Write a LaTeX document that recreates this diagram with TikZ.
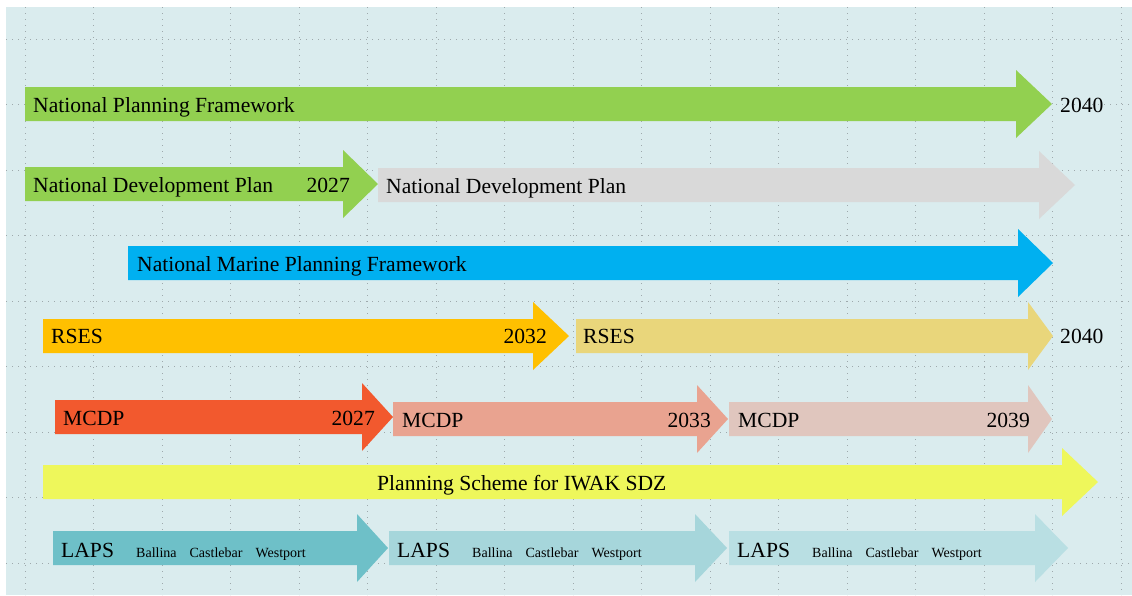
\documentclass[tikz,border=0pt]{standalone}
\usepackage{fontspec}
\setmainfont{Liberation Serif}

\definecolor{bgblue}{HTML}{DAECEE}
\definecolor{gridgray}{HTML}{9EA9AC}
\definecolor{npfgreen}{HTML}{92D050}
\definecolor{ndpgray}{HTML}{D9D9D9}
\definecolor{marineblue}{HTML}{00B0F0}
\definecolor{rsesorange}{HTML}{FFC000}
\definecolor{rseslight}{HTML}{E9D67B}
\definecolor{mcdpred}{HTML}{F2592E}
\definecolor{mcdpsalmon}{HTML}{E9A390}
\definecolor{mcdppale}{HTML}{E0C6BE}
\definecolor{sdzyellow}{HTML}{EEF75B}
\definecolor{lapsteal}{HTML}{6EC0C8}
\definecolor{lapsmid}{HTML}{A6D6DB}
\definecolor{lapspale}{HTML}{B9DFE3}

\tikzset{
  lbl/.style={anchor=base west,inner sep=0pt,font=\fontsize{21.6}{24}\selectfont},
  yr/.style={anchor=base east,inner sep=0pt,font=\fontsize{21.6}{24}\selectfont},
  towns/.style={anchor=base west,inner sep=0pt,font=\fontsize{14}{16}\selectfont},
  griddot/.style={gridgray,line width=0.7pt,dash pattern=on 0.8pt off 5.2pt}
}

% colour, start, head base, tip, middle of the bar
\newcommand{\planarrow}[5]{%
  \fill[#1] (#2,#5-17) -- (#3,#5-17) -- (#3,#5-34) -- (#4,#5)
    -- (#3,#5+34) -- (#3,#5+17) -- (#2,#5+17) -- cycle;}

\begin{document}
\begin{tikzpicture}[x=1pt,y=-1pt]
        \useasboundingbox (0,0) rectangle (1132,595);
        %% background and grid
        \fill[white] (0,0) rectangle (1132,595);
        \fill[bgblue] (6,7) rectangle (1132,595);
        \foreach \gx in {0,...,16}
          \draw[griddot] (25+68.5*\gx,7) -- (25+68.5*\gx,595);
        \foreach \gy in {0,...,8}
          \draw[griddot] (6,39+65.5*\gy) -- (1132,39+65.5*\gy);
        %% National Planning Framework
        \planarrow{npfgreen}{25}{1016}{1052}{104}
        \node[lbl] (npf) at (33,112) {National Planning Framework};
        \node[lbl] (npfend) at (1060,112) {2040};
        %% National Development Plan
        \planarrow{ndpgray}{378}{1039}{1075}{185}
        \planarrow{npfgreen}{25}{343}{378}{184}
        \node[lbl] (ndp) at (33,192) {National Development Plan};
        \node[yr] (ndpend) at (350,192) {2027};
        \node[lbl] (ndpnext) at (386,193) {National Development Plan};
        %% National Marine Planning Framework
        \planarrow{marineblue}{128}{1018}{1053}{263}
        \node[lbl] (nmpf) at (137,271) {National Marine Planning Framework};
        %% RSES
        \planarrow{rseslight}{576}{1028}{1053}{336}
        \planarrow{rsesorange}{43}{533}{569}{336}
        \node[lbl] (rses) at (51,343) {RSES};
        \node[yr] (rsesend) at (547,343) {2032};
        \node[lbl] (rsesnext) at (583,343) {RSES};
        \node[lbl] (rseslast) at (1060,343) {2040};
        %% MCDP
        \planarrow{mcdppale}{729}{1028}{1052}{419}
        \planarrow{mcdpsalmon}{393}{697}{728}{419}
        \planarrow{mcdpred}{55}{362}{393}{417}
        \node[lbl] (mcdpa) at (63,425) {MCDP};
        \node[yr] (mcdpaend) at (375,425) {2027};
        \node[lbl] (mcdpb) at (402,427) {MCDP};
        \node[yr] (mcdpbend) at (711,427) {2033};
        \node[lbl] (mcdpc) at (738,427) {MCDP};
        \node[yr] (mcdpcend) at (1030,427) {2039};
        %% Planning Scheme
        \planarrow{sdzyellow}{43}{1062}{1098}{482}
        \node[lbl] (sdz) at (377,490) {Planning Scheme for IWAK SDZ};
        %% LAPS
        \planarrow{lapspale}{729}{1035}{1068}{548}
        \planarrow{lapsmid}{389}{695}{727}{548}
        \planarrow{lapsteal}{53}{357}{388}{548}
        \foreach \lx/\lname in {61/lapsa,397/lapsb,737/lapsc} {
          \node[lbl] (\lname) at (\lx,557) {LAPS};
          \node[towns] (\lname towns) at (\lx+75,557)
            {Ballina\hspace{13pt}Castlebar\hspace{13pt}Westport};
        }
    \end{tikzpicture}
\end{document}
